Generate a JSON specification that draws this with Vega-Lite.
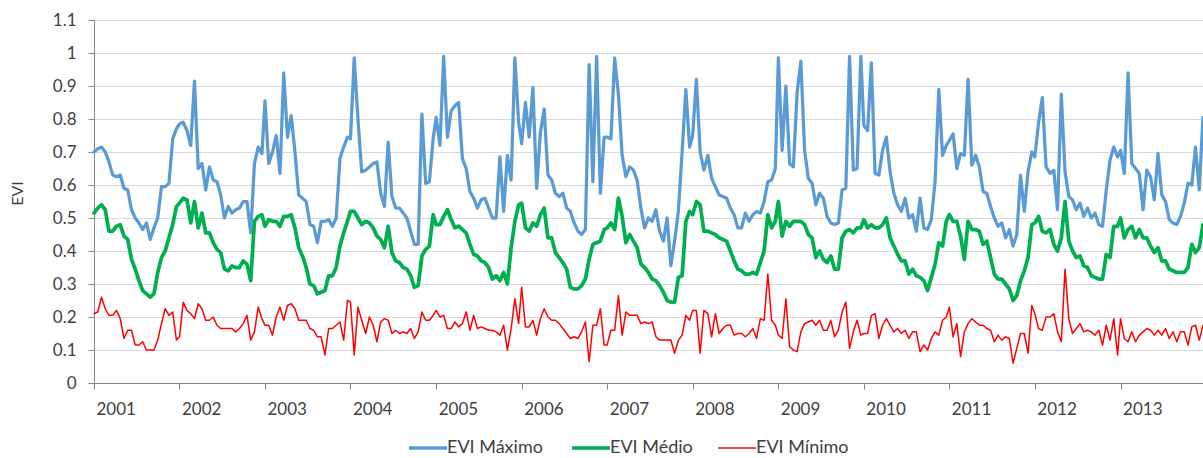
{
  "$schema": "https://vega.github.io/schema/vega-lite/v6.json",
  "width": 1109,
  "height": 363,
  "autosize": {"type": "none"},
  "padding": {"left": 94, "top": 20, "right": 0, "bottom": 75},
  "config": {"view": {"stroke": null}, "font": "Lato"},
  "data": {"values": [
{"d":"2001/01/01","max":0.70,"med":0.515,"min":0.21},
{"d":"2001/01/17","max":0.71,"med":0.53,"min":0.215},
{"d":"2001/02/02","max":0.715,"med":0.54,"min":0.26},
{"d":"2001/02/18","max":0.70,"med":0.525,"min":0.225},
{"d":"2001/03/06","max":0.67,"med":0.46,"min":0.205},
{"d":"2001/03/22","max":0.63,"med":0.46,"min":0.205},
{"d":"2001/04/07","max":0.625,"med":0.475,"min":0.22},
{"d":"2001/04/23","max":0.63,"med":0.48,"min":0.195},
{"d":"2001/05/09","max":0.59,"med":0.445,"min":0.135},
{"d":"2001/05/25","max":0.585,"med":0.435,"min":0.16},
{"d":"2001/06/10","max":0.525,"med":0.375,"min":0.16},
{"d":"2001/06/26","max":0.50,"med":0.345,"min":0.115},
{"d":"2001/07/12","max":0.485,"med":0.31,"min":0.115},
{"d":"2001/07/28","max":0.465,"med":0.28,"min":0.125},
{"d":"2001/08/13","max":0.485,"med":0.27,"min":0.10},
{"d":"2001/08/29","max":0.435,"med":0.26,"min":0.10},
{"d":"2001/09/14","max":0.47,"med":0.27,"min":0.10},
{"d":"2001/09/30","max":0.50,"med":0.335,"min":0.13},
{"d":"2001/10/16","max":0.595,"med":0.38,"min":0.18},
{"d":"2001/11/01","max":0.595,"med":0.40,"min":0.225},
{"d":"2001/11/17","max":0.605,"med":0.44,"min":0.205},
{"d":"2001/12/03","max":0.74,"med":0.48,"min":0.215},
{"d":"2001/12/19","max":0.77,"med":0.535,"min":0.13},
{"d":"2002/01/01","max":0.785,"med":0.545,"min":0.14},
{"d":"2002/01/17","max":0.79,"med":0.56,"min":0.245},
{"d":"2002/02/02","max":0.765,"med":0.555,"min":0.22},
{"d":"2002/02/18","max":0.72,"med":0.485,"min":0.21},
{"d":"2002/03/06","max":0.915,"med":0.55,"min":0.195},
{"d":"2002/03/22","max":0.65,"med":0.47,"min":0.24},
{"d":"2002/04/07","max":0.665,"med":0.515,"min":0.225},
{"d":"2002/04/23","max":0.585,"med":0.455,"min":0.19},
{"d":"2002/05/09","max":0.655,"med":0.455,"min":0.19},
{"d":"2002/05/25","max":0.615,"med":0.425,"min":0.20},
{"d":"2002/06/10","max":0.61,"med":0.405,"min":0.175},
{"d":"2002/06/26","max":0.57,"med":0.395,"min":0.165},
{"d":"2002/07/12","max":0.50,"med":0.345,"min":0.165},
{"d":"2002/07/28","max":0.535,"med":0.34,"min":0.165},
{"d":"2002/08/13","max":0.515,"med":0.355,"min":0.165},
{"d":"2002/08/29","max":0.525,"med":0.35,"min":0.155},
{"d":"2002/09/14","max":0.53,"med":0.35,"min":0.165},
{"d":"2002/09/30","max":0.55,"med":0.37,"min":0.18},
{"d":"2002/10/16","max":0.55,"med":0.36,"min":0.205},
{"d":"2002/11/01","max":0.455,"med":0.31,"min":0.13},
{"d":"2002/11/17","max":0.665,"med":0.49,"min":0.155},
{"d":"2002/12/03","max":0.715,"med":0.505,"min":0.23},
{"d":"2002/12/19","max":0.695,"med":0.51,"min":0.195},
{"d":"2003/01/01","max":0.855,"med":0.475,"min":0.175},
{"d":"2003/01/17","max":0.665,"med":0.495,"min":0.175},
{"d":"2003/02/02","max":0.70,"med":0.49,"min":0.145},
{"d":"2003/02/18","max":0.75,"med":0.49,"min":0.20},
{"d":"2003/03/06","max":0.635,"med":0.475,"min":0.23},
{"d":"2003/03/22","max":0.94,"med":0.505,"min":0.19},
{"d":"2003/04/07","max":0.745,"med":0.505,"min":0.235},
{"d":"2003/04/23","max":0.81,"med":0.51,"min":0.24},
{"d":"2003/05/09","max":0.70,"med":0.47,"min":0.225},
{"d":"2003/05/25","max":0.57,"med":0.41,"min":0.19},
{"d":"2003/06/10","max":0.56,"med":0.385,"min":0.19},
{"d":"2003/06/26","max":0.55,"med":0.35,"min":0.19},
{"d":"2003/07/12","max":0.48,"med":0.30,"min":0.165},
{"d":"2003/07/28","max":0.475,"med":0.295,"min":0.16},
{"d":"2003/08/13","max":0.425,"med":0.27,"min":0.14},
{"d":"2003/08/29","max":0.49,"med":0.275,"min":0.14},
{"d":"2003/09/14","max":0.49,"med":0.28,"min":0.085},
{"d":"2003/09/30","max":0.495,"med":0.325,"min":0.165},
{"d":"2003/10/16","max":0.475,"med":0.325,"min":0.165},
{"d":"2003/11/01","max":0.50,"med":0.35,"min":0.175},
{"d":"2003/11/17","max":0.68,"med":0.415,"min":0.185},
{"d":"2003/12/03","max":0.715,"med":0.455,"min":0.13},
{"d":"2003/12/19","max":0.745,"med":0.49,"min":0.25},
{"d":"2004/01/01","max":0.74,"med":0.52,"min":0.245},
{"d":"2004/01/17","max":0.985,"med":0.52,"min":0.085},
{"d":"2004/02/02","max":0.80,"med":0.50,"min":0.23},
{"d":"2004/02/18","max":0.64,"med":0.48,"min":0.19},
{"d":"2004/03/06","max":0.645,"med":0.49,"min":0.15},
{"d":"2004/03/22","max":0.655,"med":0.485,"min":0.20},
{"d":"2004/04/07","max":0.665,"med":0.47,"min":0.175},
{"d":"2004/04/23","max":0.67,"med":0.445,"min":0.125},
{"d":"2004/05/09","max":0.575,"med":0.435,"min":0.185},
{"d":"2004/05/25","max":0.535,"med":0.41,"min":0.195},
{"d":"2004/06/10","max":0.73,"med":0.475,"min":0.19},
{"d":"2004/06/26","max":0.565,"med":0.395,"min":0.15},
{"d":"2004/07/12","max":0.53,"med":0.37,"min":0.16},
{"d":"2004/07/28","max":0.53,"med":0.365,"min":0.15},
{"d":"2004/08/13","max":0.515,"med":0.35,"min":0.155},
{"d":"2004/08/29","max":0.50,"med":0.345,"min":0.15},
{"d":"2004/09/14","max":0.46,"med":0.325,"min":0.165},
{"d":"2004/09/30","max":0.42,"med":0.29,"min":0.135},
{"d":"2004/10/16","max":0.42,"med":0.295,"min":0.155},
{"d":"2004/11/01","max":0.815,"med":0.385,"min":0.215},
{"d":"2004/11/17","max":0.605,"med":0.405,"min":0.19},
{"d":"2004/12/03","max":0.61,"med":0.415,"min":0.19},
{"d":"2004/12/19","max":0.74,"med":0.51,"min":0.205},
{"d":"2005/01/01","max":0.805,"med":0.48,"min":0.22},
{"d":"2005/01/17","max":0.72,"med":0.48,"min":0.20},
{"d":"2005/02/02","max":0.99,"med":0.505,"min":0.205},
{"d":"2005/02/18","max":0.745,"med":0.525,"min":0.165},
{"d":"2005/03/06","max":0.825,"med":0.495,"min":0.165},
{"d":"2005/03/22","max":0.84,"med":0.47,"min":0.185},
{"d":"2005/04/07","max":0.85,"med":0.475,"min":0.17},
{"d":"2005/04/23","max":0.68,"med":0.465,"min":0.18},
{"d":"2005/05/09","max":0.65,"med":0.455,"min":0.215},
{"d":"2005/05/25","max":0.58,"med":0.42,"min":0.16},
{"d":"2005/06/10","max":0.56,"med":0.39,"min":0.205},
{"d":"2005/06/26","max":0.53,"med":0.385,"min":0.165},
{"d":"2005/07/12","max":0.555,"med":0.37,"min":0.17},
{"d":"2005/07/28","max":0.56,"med":0.365,"min":0.165},
{"d":"2005/08/13","max":0.53,"med":0.35,"min":0.16},
{"d":"2005/08/29","max":0.50,"med":0.315,"min":0.16},
{"d":"2005/09/14","max":0.50,"med":0.325,"min":0.155},
{"d":"2005/09/30","max":0.685,"med":0.31,"min":0.145},
{"d":"2005/10/16","max":0.52,"med":0.335,"min":0.175},
{"d":"2005/11/01","max":0.69,"med":0.30,"min":0.10},
{"d":"2005/11/17","max":0.615,"med":0.41,"min":0.165},
{"d":"2005/12/03","max":0.985,"med":0.49,"min":0.255},
{"d":"2005/12/19","max":0.79,"med":0.54,"min":0.18},
{"d":"2006/01/01","max":0.725,"med":0.545,"min":0.29},
{"d":"2006/01/17","max":0.85,"med":0.47,"min":0.17},
{"d":"2006/02/02","max":0.745,"med":0.46,"min":0.17},
{"d":"2006/02/18","max":0.895,"med":0.485,"min":0.19},
{"d":"2006/03/06","max":0.59,"med":0.475,"min":0.145},
{"d":"2006/03/22","max":0.76,"med":0.51,"min":0.195},
{"d":"2006/04/07","max":0.83,"med":0.53,"min":0.225},
{"d":"2006/04/23","max":0.63,"med":0.44,"min":0.20},
{"d":"2006/05/09","max":0.615,"med":0.44,"min":0.19},
{"d":"2006/05/25","max":0.575,"med":0.395,"min":0.19},
{"d":"2006/06/10","max":0.565,"med":0.38,"min":0.18},
{"d":"2006/06/26","max":0.575,"med":0.365,"min":0.165},
{"d":"2006/07/12","max":0.53,"med":0.345,"min":0.15},
{"d":"2006/07/28","max":0.52,"med":0.29,"min":0.135},
{"d":"2006/08/13","max":0.485,"med":0.285,"min":0.14},
{"d":"2006/08/29","max":0.46,"med":0.285,"min":0.135},
{"d":"2006/09/14","max":0.45,"med":0.295,"min":0.155},
{"d":"2006/09/30","max":0.465,"med":0.315,"min":0.185},
{"d":"2006/10/16","max":0.965,"med":0.375,"min":0.065},
{"d":"2006/11/01","max":0.61,"med":0.42,"min":0.175},
{"d":"2006/11/17","max":0.99,"med":0.425,"min":0.175},
{"d":"2006/12/03","max":0.575,"med":0.43,"min":0.225},
{"d":"2006/12/19","max":0.745,"med":0.465,"min":0.115},
{"d":"2007/01/01","max":0.745,"med":0.47,"min":0.115},
{"d":"2007/01/17","max":0.74,"med":0.485,"min":0.16},
{"d":"2007/02/02","max":0.985,"med":0.465,"min":0.16},
{"d":"2007/02/18","max":0.875,"med":0.56,"min":0.265},
{"d":"2007/03/06","max":0.69,"med":0.505,"min":0.145},
{"d":"2007/03/22","max":0.625,"med":0.425,"min":0.215},
{"d":"2007/04/07","max":0.655,"med":0.45,"min":0.205},
{"d":"2007/04/23","max":0.645,"med":0.43,"min":0.205},
{"d":"2007/05/09","max":0.615,"med":0.41,"min":0.205},
{"d":"2007/05/25","max":0.53,"med":0.36,"min":0.18},
{"d":"2007/06/10","max":0.47,"med":0.35,"min":0.185},
{"d":"2007/06/26","max":0.50,"med":0.335,"min":0.18},
{"d":"2007/07/12","max":0.49,"med":0.315,"min":0.185},
{"d":"2007/07/28","max":0.525,"med":0.31,"min":0.14},
{"d":"2007/08/13","max":0.46,"med":0.295,"min":0.13},
{"d":"2007/08/29","max":0.43,"med":0.275,"min":0.13},
{"d":"2007/09/14","max":0.50,"med":0.25,"min":0.13},
{"d":"2007/09/30","max":0.355,"med":0.245,"min":0.13},
{"d":"2007/10/16","max":0.43,"med":0.245,"min":0.09},
{"d":"2007/11/01","max":0.52,"med":0.32,"min":0.13},
{"d":"2007/11/17","max":0.70,"med":0.325,"min":0.145},
{"d":"2007/12/03","max":0.89,"med":0.49,"min":0.205},
{"d":"2007/12/19","max":0.715,"med":0.52,"min":0.19},
{"d":"2008/01/01","max":0.75,"med":0.51,"min":0.22},
{"d":"2008/01/17","max":0.92,"med":0.55,"min":0.22},
{"d":"2008/02/02","max":0.70,"med":0.54,"min":0.09},
{"d":"2008/02/18","max":0.645,"med":0.46,"min":0.22},
{"d":"2008/03/06","max":0.69,"med":0.46,"min":0.21},
{"d":"2008/03/22","max":0.62,"med":0.455,"min":0.14},
{"d":"2008/04/07","max":0.595,"med":0.45,"min":0.21},
{"d":"2008/04/23","max":0.57,"med":0.44,"min":0.15},
{"d":"2008/05/09","max":0.565,"med":0.435,"min":0.165},
{"d":"2008/05/25","max":0.56,"med":0.43,"min":0.175},
{"d":"2008/06/10","max":0.53,"med":0.40,"min":0.175},
{"d":"2008/06/26","max":0.51,"med":0.37,"min":0.145},
{"d":"2008/07/12","max":0.47,"med":0.345,"min":0.15},
{"d":"2008/07/28","max":0.47,"med":0.34,"min":0.15},
{"d":"2008/08/13","max":0.515,"med":0.33,"min":0.14},
{"d":"2008/08/29","max":0.49,"med":0.33,"min":0.15},
{"d":"2008/09/14","max":0.51,"med":0.335,"min":0.165},
{"d":"2008/09/30","max":0.52,"med":0.33,"min":0.135},
{"d":"2008/10/16","max":0.515,"med":0.365,"min":0.195},
{"d":"2008/11/01","max":0.55,"med":0.40,"min":0.19},
{"d":"2008/11/17","max":0.61,"med":0.51,"min":0.33},
{"d":"2008/12/03","max":0.615,"med":0.47,"min":0.19},
{"d":"2008/12/19","max":0.65,"med":0.49,"min":0.175},
{"d":"2009/01/01","max":0.985,"med":0.55,"min":0.145},
{"d":"2009/01/17","max":0.705,"med":0.445,"min":0.135},
{"d":"2009/02/02","max":0.90,"med":0.49,"min":0.255},
{"d":"2009/02/18","max":0.665,"med":0.475,"min":0.11},
{"d":"2009/03/06","max":0.655,"med":0.49,"min":0.10},
{"d":"2009/03/22","max":0.88,"med":0.49,"min":0.095},
{"d":"2009/04/07","max":0.975,"med":0.49,"min":0.155},
{"d":"2009/04/23","max":0.705,"med":0.48,"min":0.18},
{"d":"2009/05/09","max":0.62,"med":0.45,"min":0.185},
{"d":"2009/05/25","max":0.605,"med":0.44,"min":0.19},
{"d":"2009/06/10","max":0.54,"med":0.38,"min":0.175},
{"d":"2009/06/26","max":0.575,"med":0.40,"min":0.19},
{"d":"2009/07/12","max":0.56,"med":0.375,"min":0.16},
{"d":"2009/07/28","max":0.505,"med":0.365,"min":0.16},
{"d":"2009/08/13","max":0.485,"med":0.385,"min":0.19},
{"d":"2009/08/29","max":0.48,"med":0.345,"min":0.14},
{"d":"2009/09/14","max":0.485,"med":0.345,"min":0.16},
{"d":"2009/09/30","max":0.585,"med":0.44,"min":0.215},
{"d":"2009/10/16","max":0.59,"med":0.46,"min":0.245},
{"d":"2009/11/01","max":0.99,"med":0.465,"min":0.105},
{"d":"2009/11/17","max":0.645,"med":0.455,"min":0.155},
{"d":"2009/12/03","max":0.65,"med":0.47,"min":0.19},
{"d":"2009/12/19","max":0.99,"med":0.47,"min":0.145},
{"d":"2010/01/01","max":0.78,"med":0.495,"min":0.15},
{"d":"2010/01/17","max":0.765,"med":0.47,"min":0.15},
{"d":"2010/02/02","max":0.97,"med":0.48,"min":0.205},
{"d":"2010/02/18","max":0.635,"med":0.47,"min":0.21},
{"d":"2010/03/06","max":0.63,"med":0.47,"min":0.135},
{"d":"2010/03/22","max":0.705,"med":0.48,"min":0.175},
{"d":"2010/04/07","max":0.745,"med":0.50,"min":0.195},
{"d":"2010/04/23","max":0.64,"med":0.44,"min":0.175},
{"d":"2010/05/09","max":0.575,"med":0.415,"min":0.155},
{"d":"2010/05/25","max":0.54,"med":0.39,"min":0.165},
{"d":"2010/06/10","max":0.52,"med":0.37,"min":0.15},
{"d":"2010/06/26","max":0.56,"med":0.37,"min":0.16},
{"d":"2010/07/12","max":0.50,"med":0.33,"min":0.135},
{"d":"2010/07/28","max":0.51,"med":0.345,"min":0.155},
{"d":"2010/08/13","max":0.46,"med":0.325,"min":0.155},
{"d":"2010/08/29","max":0.56,"med":0.32,"min":0.095},
{"d":"2010/09/14","max":0.47,"med":0.31,"min":0.115},
{"d":"2010/09/30","max":0.465,"med":0.28,"min":0.10},
{"d":"2010/10/16","max":0.495,"med":0.32,"min":0.135},
{"d":"2010/11/01","max":0.61,"med":0.36,"min":0.155},
{"d":"2010/11/17","max":0.89,"med":0.425,"min":0.145},
{"d":"2010/12/03","max":0.69,"med":0.415,"min":0.19},
{"d":"2010/12/19","max":0.72,"med":0.49,"min":0.20},
{"d":"2011/01/01","max":0.735,"med":0.51,"min":0.23},
{"d":"2011/01/17","max":0.755,"med":0.49,"min":0.14},
{"d":"2011/02/02","max":0.65,"med":0.49,"min":0.18},
{"d":"2011/02/18","max":0.695,"med":0.445,"min":0.08},
{"d":"2011/03/06","max":0.69,"med":0.375,"min":0.155},
{"d":"2011/03/22","max":0.92,"med":0.49,"min":0.18},
{"d":"2011/04/07","max":0.66,"med":0.465,"min":0.195},
{"d":"2011/04/23","max":0.69,"med":0.465,"min":0.185},
{"d":"2011/05/09","max":0.655,"med":0.46,"min":0.175},
{"d":"2011/05/25","max":0.58,"med":0.42,"min":0.175},
{"d":"2011/06/10","max":0.575,"med":0.43,"min":0.165},
{"d":"2011/06/26","max":0.535,"med":0.38,"min":0.16},
{"d":"2011/07/12","max":0.50,"med":0.33,"min":0.125},
{"d":"2011/07/28","max":0.475,"med":0.315,"min":0.145},
{"d":"2011/08/13","max":0.485,"med":0.315,"min":0.13},
{"d":"2011/08/29","max":0.44,"med":0.30,"min":0.14},
{"d":"2011/09/14","max":0.465,"med":0.285,"min":0.135},
{"d":"2011/09/30","max":0.415,"med":0.25,"min":0.06},
{"d":"2011/10/16","max":0.45,"med":0.265,"min":0.105},
{"d":"2011/11/01","max":0.63,"med":0.31,"min":0.15},
{"d":"2011/11/17","max":0.52,"med":0.34,"min":0.15},
{"d":"2011/12/03","max":0.64,"med":0.38,"min":0.09},
{"d":"2011/12/19","max":0.70,"med":0.48,"min":0.235},
{"d":"2012/01/01","max":0.685,"med":0.485,"min":0.21},
{"d":"2012/01/17","max":0.79,"med":0.505,"min":0.165},
{"d":"2012/02/02","max":0.865,"med":0.46,"min":0.16},
{"d":"2012/02/18","max":0.655,"med":0.455,"min":0.20},
{"d":"2012/03/06","max":0.635,"med":0.465,"min":0.20},
{"d":"2012/03/22","max":0.645,"med":0.42,"min":0.21},
{"d":"2012/04/07","max":0.525,"med":0.40,"min":0.155},
{"d":"2012/04/23","max":0.875,"med":0.44,"min":0.125},
{"d":"2012/05/09","max":0.64,"med":0.55,"min":0.345},
{"d":"2012/05/25","max":0.565,"med":0.43,"min":0.195},
{"d":"2012/06/10","max":0.555,"med":0.40,"min":0.15},
{"d":"2012/06/26","max":0.525,"med":0.38,"min":0.165},
{"d":"2012/07/12","max":0.545,"med":0.385,"min":0.18},
{"d":"2012/07/28","max":0.505,"med":0.355,"min":0.155},
{"d":"2012/08/13","max":0.53,"med":0.35,"min":0.16},
{"d":"2012/08/29","max":0.50,"med":0.325,"min":0.155},
{"d":"2012/09/14","max":0.515,"med":0.32,"min":0.145},
{"d":"2012/09/30","max":0.48,"med":0.315,"min":0.16},
{"d":"2012/10/16","max":0.475,"med":0.315,"min":0.115},
{"d":"2012/11/01","max":0.585,"med":0.39,"min":0.175},
{"d":"2012/11/17","max":0.675,"med":0.38,"min":0.13},
{"d":"2012/12/03","max":0.715,"med":0.475,"min":0.195},
{"d":"2012/12/19","max":0.685,"med":0.475,"min":0.085},
{"d":"2013/01/01","max":0.705,"med":0.50,"min":0.195},
{"d":"2013/01/17","max":0.635,"med":0.44,"min":0.135},
{"d":"2013/02/02","max":0.94,"med":0.465,"min":0.125},
{"d":"2013/02/18","max":0.665,"med":0.475,"min":0.155},
{"d":"2013/03/06","max":0.65,"med":0.44,"min":0.125},
{"d":"2013/03/22","max":0.635,"med":0.465,"min":0.145},
{"d":"2013/04/07","max":0.525,"med":0.44,"min":0.155},
{"d":"2013/04/23","max":0.645,"med":0.44,"min":0.165},
{"d":"2013/05/09","max":0.625,"med":0.415,"min":0.16},
{"d":"2013/05/25","max":0.555,"med":0.395,"min":0.145},
{"d":"2013/06/10","max":0.695,"med":0.41,"min":0.16},
{"d":"2013/06/26","max":0.57,"med":0.37,"min":0.145},
{"d":"2013/07/12","max":0.55,"med":0.37,"min":0.165},
{"d":"2013/07/28","max":0.495,"med":0.345,"min":0.135},
{"d":"2013/08/13","max":0.485,"med":0.34,"min":0.155},
{"d":"2013/08/29","max":0.48,"med":0.335,"min":0.125},
{"d":"2013/09/14","max":0.505,"med":0.335,"min":0.155},
{"d":"2013/09/30","max":0.545,"med":0.335,"min":0.155},
{"d":"2013/10/16","max":0.605,"med":0.35,"min":0.115},
{"d":"2013/11/01","max":0.60,"med":0.42,"min":0.17},
{"d":"2013/11/17","max":0.715,"med":0.395,"min":0.175},
{"d":"2013/12/03","max":0.585,"med":0.41,"min":0.13},
{"d":"2013/12/19","max":0.805,"med":0.48,"min":0.175}
  ]},
  "transform": [{"fold": ["max", "med", "min"], "as": ["s", "v"]}],
  "mark": {"type": "line", "strokeJoin": "round", "strokeCap": "round", "clip": false},
  "encoding": {
    "x": {
      "field": "d", "type": "temporal",
      "axis": {
        "title": null, "format": "%Y", "tickCount": {"interval": "year", "step": 1},
        "grid": false, "labelAlign": "left", "labelOffset": 2, "labelPadding": 12,
        "labelBaseline": "top", "labelFlush": false, "labelOverlap": false,
        "labelFont": "Lato", "labelFontSize": 17, "labelColor": "#404040",
        "tickSize": 6, "tickColor": "#868686", "domainColor": "#868686", "domainWidth": 1
      }
    },
    "y": {
      "field": "v", "type": "quantitative",
      "scale": {"domain": [0, 1.1], "nice": false, "zero": true},
      "axis": {
        "title": "EVI", "values": [0, 0.1, 0.2, 0.3, 0.4, 0.5, 0.6, 0.7, 0.8, 0.9, 1, 1.1],
        "format": "~g", "grid": true, "gridColor": "#D9D9D9", "gridWidth": 1,
        "labelFont": "Lato", "labelFontSize": 17, "labelColor": "#404040", "labelPadding": 12,
        "tickSize": 6, "tickColor": "#868686", "domainColor": "#868686",
        "titleFont": "Lato", "titleFontSize": 16, "titleFontWeight": "normal", "titleColor": "#404040",
        "titleX": -72, "titleY": 173, "titleBaseline": "alphabetic", "titleAlign": "center", "titleAngle": -90
      }
    },
    "color": {
      "field": "s", "type": "nominal",
      "scale": {"domain": ["max", "med", "min"], "range": ["#5B9BD5", "#00B050", "#FF0000"]},
      "legend": {
        "title": null, "orient": "none", "legendX": 325, "legendY": 419, "direction": "horizontal",
        "symbolType": "stroke", "symbolSize": 1444, "symbolStrokeWidth": 3.5,
        "labelFont": "Lato", "labelFontSize": 18, "labelColor": "#404040",
        "labelOffset": 10, "columnPadding": 22, "padding": 0,
        "labelExpr": "datum.label == 'max' ? 'EVI Máximo' : datum.label == 'med' ? 'EVI Médio' : 'EVI Mínimo'",
        "encode": {"symbols": {"update": {"strokeWidth": {"signal": "datum.value == 'min' ? 1.5 : 3.5"}}}}
      }
    },
    "strokeWidth": {
      "condition": [
        {"test": "datum.s == 'min'", "value": 1.5},
        {"test": "datum.s == 'med'", "value": 3.75}
      ],
      "value": 3.25
    }
  }
}
